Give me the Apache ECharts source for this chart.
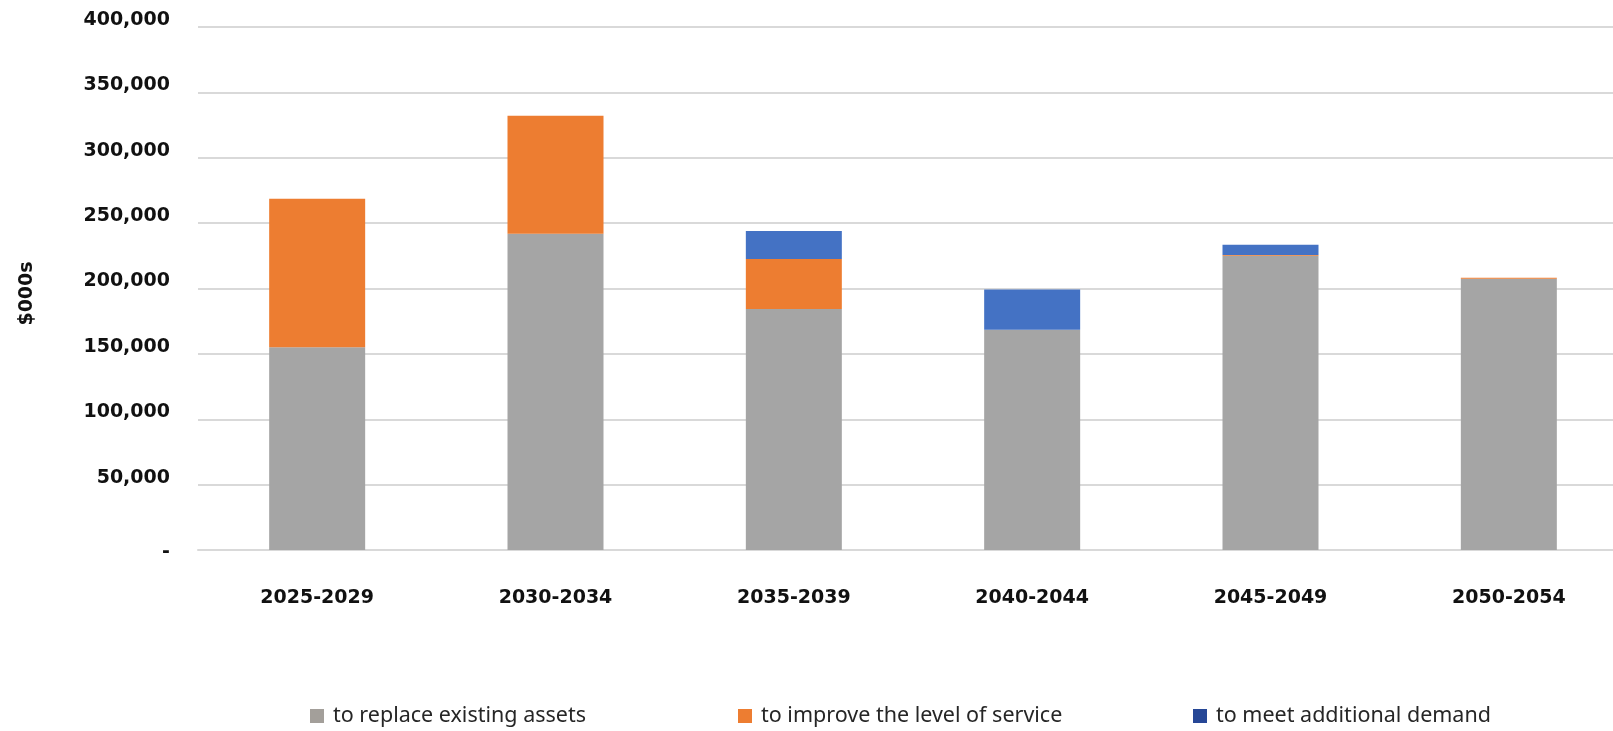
<!DOCTYPE html>
<html>
<head>
<meta charset="utf-8">
<title>Capital expenditure by period</title>
<script src="https://cdn.jsdelivr.net/npm/echarts@6/dist/echarts.min.js"></script>
<style>
  html, body { margin: 0; padding: 0; background: #fff; }
  #chart { width: 1613px; height: 731px; }
</style>
</head>
<body>
<div id="chart"></div>
<script>
// periods on the x axis
const categories = ['2025-2029', '2030-2034', '2035-2039', '2040-2044', '2045-2049', '2050-2054'];
// $000s
const replaceAssets = [155000, 241800, 184300, 168500, 225000, 207500];
const improveService = [113600, 90400, 38200, 0, 700, 800];
const additionalDemand = [0, 0, 21400, 30800, 7800, 0];
const seriesNames = ['to replace existing assets', 'to improve the level of service', 'to meet additional demand'];
const yTicks = { min: 0, max: 400000, interval: 50000 };

const barColors = ['#a5a5a5', '#ed7d31', '#4472c4'];
const legendColors = ['#a39f9a', '#ed7d31', '#264796'];
const legendLeft = [310, 738, 1193];

const chart = echarts.init(document.getElementById('chart'));

const axisFont = 'DejaVu Sans';

function legendFor(i) {
  return {
    left: legendLeft[i],
    top: 705,
    padding: 0,
    icon: 'rect',
    itemWidth: 14,
    itemHeight: 14,
    selectedMode: false,
    data: [{ name: seriesNames[i], itemStyle: { color: legendColors[i] } }],
    textStyle: {
      fontFamily: 'Noto Sans',
      fontSize: 21.5,
      color: '#262626',
      padding: [0, 0, 0, 4],
    },
  };
}

const seriesData = [replaceAssets, improveService, additionalDemand];

const option = {
  animation: false,
  grid: {
    left: 198,
    top: 27,
    width: 1430, // last category runs past the right edge, as in the source
    height: 523,
    outerBoundsMode: 'none',
  },
  legend: [legendFor(0), legendFor(1), legendFor(2)],
  xAxis: {
    type: 'category',
    data: categories,
    axisTick: { show: false },
    axisLine: { lineStyle: { color: '#d9d9d9', width: 2 } },
    axisLabel: {
      margin: 39,
      fontFamily: axisFont,
      fontWeight: 'bold',
      fontSize: 19,
      color: '#111',
    },
  },
  yAxis: {
    type: 'value',
    min: yTicks.min,
    max: yTicks.max,
    interval: yTicks.interval,
    name: '$000s',
    nameLocation: 'middle',
    nameGap: 161,
    nameRotate: 90,
    nameTextStyle: {
      fontFamily: axisFont,
      fontWeight: 'bold',
      fontSize: 19,
      color: '#111',
      padding: [0, 10, 0, 0],
    },
    axisLine: { show: false },
    axisTick: { show: false },
    splitLine: { lineStyle: { color: '#d9d9d9', width: 2 } },
    axisLabel: {
      margin: 28,
      formatter(v) {
        if (v === 0) return '{z|-}';
        return `{a|${v.toLocaleString('en-US')}}`;
      },
      rich: {
        a: {
          fontFamily: axisFont,
          fontWeight: 'bold',
          fontSize: 19,
          color: '#111',
          padding: [0, 0, 14, 0],
        },
        z: {
          fontFamily: axisFont,
          fontWeight: 'bold',
          fontSize: 19,
          color: '#111',
          padding: [4, 0, 0, 0],
        },
      },
    },
  },
  series: seriesNames.map((name, i) => ({
    name,
    type: 'bar',
    stack: 'total',
    barWidth: 96,
    itemStyle: { color: barColors[i] },
    data: seriesData[i],
  })),
};

chart.setOption(option);
</script>
</body>
</html>
